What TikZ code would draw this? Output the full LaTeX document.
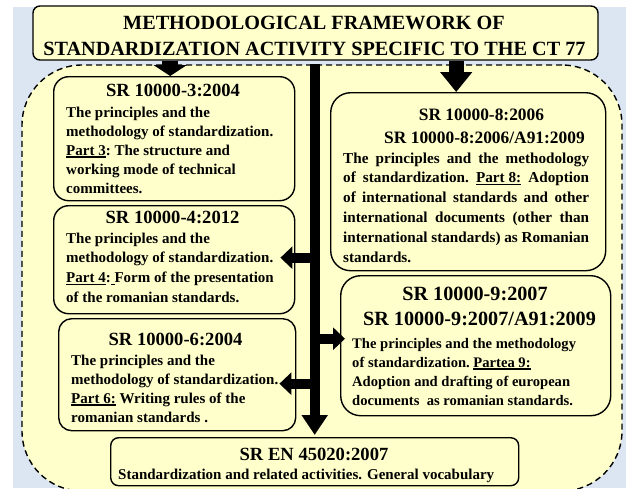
\documentclass[tikz,border=0pt]{standalone}
\usepackage{fontspec}
\setmainfont{Liberation Serif}
\usetikzlibrary{arrows.meta,calc}

\definecolor{paper}{HTML}{FFFFCC}
\definecolor{sky}{HTML}{DCE6F2}

% underline with a heavier rule
\newcommand\ulx[1]{\setbox0=\hbox{#1}\rlap{\rule[-2.6pt]{\wd0}{1.3pt}}\box0\relax}
% body paragraph: width, font size, line distance, lines
\newcommand\bodyblock[4]{\parbox[t]{#1}{\frenchspacing\fontsize{#2}{#3}\selectfont\bfseries #4}}
% justified line of a given width
\newcommand\jline[1]{\makebox[246pt][s]{#1}}

\tikzset{
  panel/.style={draw=black, line width=1.4pt, fill=paper, inner sep=0pt, rectangle},
  hd/.style={font=\fontsize{18.6}{20}\selectfont\bfseries, inner sep=0pt, anchor=base},
  txt/.style={inner sep=0pt, anchor=base west},
  spine/.style={line width=10pt, -{Triangle[width=25pt,length=20pt]}},
  sidearrow/.style={line width=10pt, -{Triangle[width=22pt,length=12pt]}},
  toparrowA/.style={line width=16pt, -{Triangle[width=33pt,length=11pt]}},
  toparrowE/.style={line width=15pt, -{Triangle[width=31pt,length=20pt]}},
}

\begin{document}
\begin{tikzpicture}[x=1pt,y=-1pt]
\useasboundingbox (0,0) rectangle (630,488);

% backdrop
\fill[sky] (13,7) rectangle (626,488);

% dashed frame around the standards
\node[draw=black, fill=paper, line width=1.4pt, dash pattern=on 6pt off 4pt,
      rounded corners=60pt, minimum width=600pt, minimum height=426pt, inner sep=0pt]
      (frame) at (322,278) {};

% title
\node[panel, rounded corners=7pt, minimum width=565pt, minimum height=54pt] (title) at (315.5,33) {};
\node[font=\fontsize{20.2}{22}\selectfont\bfseries, inner sep=0pt, anchor=base] (t1) at (314,29) {METHODOLOGICAL FRAMEWORK OF};
\node[font=\fontsize{20.2}{22}\selectfont\bfseries, inner sep=0pt, anchor=base] (t2) at (314.5,55) {STANDARDIZATION ACTIVITY SPECIFIC TO THE CT 77};

% standard boxes
\node[panel, rounded corners=15pt, minimum width=241pt, minimum height=124pt, anchor=north west] (srA) at (53,76) {};
\node[panel, rounded corners=15pt, minimum width=241pt, minimum height=108pt, anchor=north west] (srB) at (53,205) {};
\node[panel, rounded corners=13pt, minimum width=237pt, minimum height=112pt, anchor=north west] (srC) at (58,318) {};
\node[panel, rounded corners=8pt, minimum width=408pt, minimum height=48pt, anchor=north west] (srD) at (110,437) {};
\node[panel, rounded corners=20pt, minimum width=275pt, minimum height=178pt, anchor=north west] (srE) at (330,92) {};
\node[panel, rounded corners=20pt, minimum width=270pt, minimum height=140pt, anchor=north west] (srF) at (340,275) {};

% arrows
\path ([xshift=-4pt]srA.north) coordinate (pA);
\draw[toparrowA] (title.south -| pA) -- (pA);
\path ([xshift=-12pt]srE.north) coordinate (pE);
\draw[toparrowE] (title.south -| pE) -- (pE);
\draw[spine] (frame.north -| srD.north) -- ([yshift=2pt]srD.north);
\path ([xshift=-15pt,yshift=2pt]srB.east) coordinate (pB);
\draw[sidearrow] (srD.north |- pB) -- (pB);
\path ([xshift=-17pt,yshift=-9pt]srC.east) coordinate (pC);
\draw[sidearrow] (srD.north |- pC) -- (pC);
\path ([xshift=5pt,yshift=7pt]srF.west) coordinate (pF);
\draw[sidearrow] (srD.north |- pF) -- (pF);

% SR 10000-3
\node[hd] (hA) at (173,96) {SR 10000-3:2004};
\node[txt] (bA) at (66,117) {\bodyblock{300pt}{15}{19}{%
The principles and the\\
methodology of standardization.\\
\ulx{Part 3}: The structure and\\
working mode of technical\\
committees.}};

% SR 10000-4
\node[hd] (hB) at (172.5,223) {SR 10000-4:2012};
\node[txt] (bB) at (66,243) {\bodyblock{300pt}{15}{19.7}{%
The principles and the\\
methodology of standardization.\\
\ulx{Part 4}:\ulx{\ }Form of the presentation\\
of the romanian standards.}};

% SR 10000-6
\node[hd] (hC) at (175.5,345) {SR 10000-6:2004};
\node[txt] (bC) at (71,365) {\bodyblock{300pt}{15}{19}{%
The principles and the\\
methodology of standardization.\\
\ulx{Part 6:} Writing rules of the\\
romanian standards .}};

% SR EN 45020
\node[hd] (hD) at (314,460) {SR EN 45020:2007};
\node[txt, font=\fontsize{15}{18}\selectfont\bfseries] (bD) at (118,479) {Standardization and related activities. General vocabulary};

% SR 10000-8
\node[hd, font=\fontsize{17.4}{20}\selectfont\bfseries] (hE1) at (481.5,120) {SR 10000-8:2006};
\node[hd, font=\fontsize{17.4}{20}\selectfont\bfseries] (hE2) at (484.5,143) {SR 10000-8:2006/A91:2009};
\node[txt] (bE) at (343,163) {\bodyblock{260pt}{15.2}{19.8}{%
\jline{The principles and the methodology}\\
\jline{of standardization. \ulx{Part 8:} Adoption}\\
\jline{of international standards and other}\\
\jline{international documents (other than}\\
\jline{international standards) as Romanian}\\
standards.}};

% SR 10000-9
\node[hd, font=\fontsize{20.2}{22}\selectfont\bfseries] (hF1) at (475,300) {SR 10000-9:2007};
\node[hd, font=\fontsize{20.2}{22}\selectfont\bfseries] (hF2) at (479.5,325) {SR 10000-9:2007/A91:2009};
\node[txt] (bF) at (352,348) {\bodyblock{260pt}{14.6}{19}{%
The principles and the methodology\\
of standardization. \ulx{Partea 9:}\\
Adoption and drafting of european\\
documents\ \ as romanian standards.}};

\end{tikzpicture}
\end{document}
